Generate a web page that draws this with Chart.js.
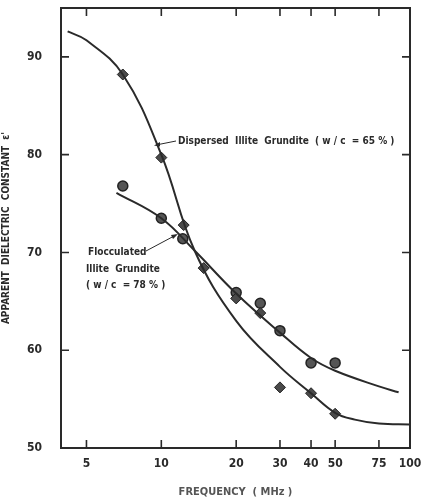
<!DOCTYPE html>
<html>
<head>
<meta charset="utf-8">
<script src="https://cdn.jsdelivr.net/npm/chart.js@4/dist/chart.umd.min.js"></script>
<style>
  html, body { margin: 0; padding: 0; background: #fff; }
  #wrap { width: 423px; height: 499px; }
</style>
</head>
<body>
<div id="wrap"><canvas id="c"></canvas></div>
<script>
const freqTicks = [5, 10, 20, 30, 40, 50, 75, 100];
const dielTicks = [50, 60, 70, 80, 90];

// measured points
const dispFreq = [7, 10, 12.3, 14.8, 20, 25, 30, 40, 50];
const dispVals = [88.2, 79.7, 72.8, 68.4, 65.3, 63.8, 56.2, 55.6, 53.5];
const flocFreq = [7, 10, 12.2, 20, 25, 30, 40, 50];
const flocVals = [76.8, 73.5, 71.4, 65.9, 64.8, 62.0, 58.7, 58.7];

// fitted curves
const dispCurveFreq = [4.2, 5, 7, 10, 13.6, 20, 30, 40, 50, 60, 75, 100];
const dispCurveVals = [92.6, 91.7, 88.2, 80.0, 70.2, 63.0, 58.3, 55.6, 53.6, 52.9, 52.5, 52.4];
const flocCurveFreq = [6.6, 10, 13.6, 20, 30, 40, 50, 75, 90];
const flocCurveVals = [76.1, 73.5, 70.2, 65.8, 61.8, 59.2, 57.9, 56.3, 55.7];

const toXY = (xs, ys) => xs.map((x, i) => ({ x, y: ys[i] }));

const FONT = "'DejaVu Sans Condensed', 'Liberation Sans Narrow', sans-serif";
const INK = '#2a2a2a';

const frameAndNotes = {
  id: 'frameAndNotes',
  afterDraw(chart) {
    const { ctx, chartArea: a, scales: { x, y } } = chart;
    ctx.save();
    ctx.strokeStyle = INK;
    ctx.lineWidth = 2;
    ctx.strokeRect(a.left, a.top, a.right - a.left, a.bottom - a.top);
    // inward ticks on all four sides
    ctx.lineWidth = 1.6;
    for (const t of freqTicks) {
      const px = x.getPixelForValue(t);
      ctx.beginPath();
      ctx.moveTo(px, a.bottom); ctx.lineTo(px, a.bottom - 8);
      ctx.moveTo(px, a.top); ctx.lineTo(px, a.top + 8);
      ctx.stroke();
    }
    for (const t of dielTicks) {
      const py = y.getPixelForValue(t);
      ctx.beginPath();
      ctx.moveTo(a.left, py); ctx.lineTo(a.left + 8, py);
      ctx.moveTo(a.right, py); ctx.lineTo(a.right - 8, py);
      ctx.stroke();
    }
    // annotations
    ctx.fillStyle = INK;
    ctx.font = 'bold 10px ' + FONT;
    ctx.textBaseline = 'middle';
    ctx.textAlign = 'left';
    ctx.fillText('Dispersed  Illite  Grundite  ( w / c  = 65 % )', 178, 141);
    ctx.fillText('Flocculated', 88, 252);
    ctx.fillText('Illite  Grundite', 86, 269);
    ctx.fillText('( w / c  = 78 % )', 86, 285);
    ctx.lineWidth = 1;
    ctx.beginPath();
    ctx.moveTo(176, 141); ctx.lineTo(156, 145);
    ctx.moveTo(146, 251); ctx.lineTo(176, 235);
    ctx.stroke();
    ctx.beginPath();
    ctx.moveTo(154, 145.5); ctx.lineTo(160, 142); ctx.lineTo(160, 146.5); ctx.closePath();
    ctx.moveTo(178, 234); ctx.lineTo(171, 235); ctx.lineTo(173, 239); ctx.closePath();
    ctx.fill();
    ctx.restore();
  }
};

new Chart(document.getElementById('c'), {
  type: 'scatter',
  data: {
    datasets: [
      {
        label: 'Dispersed fit',
        type: 'line',
        data: toXY(dispCurveFreq, dispCurveVals),
        borderColor: INK,
        borderWidth: 2,
        pointRadius: 0,
        tension: 0.4,
        fill: false
      },
      {
        label: 'Flocculated fit',
        type: 'line',
        data: toXY(flocCurveFreq, flocCurveVals),
        borderColor: INK,
        borderWidth: 2,
        pointRadius: 0,
        tension: 0.4,
        fill: false
      },
      {
        label: 'Dispersed',
        data: toXY(dispFreq, dispVals),
        pointStyle: 'rectRot',
        pointRadius: 5.5,
        backgroundColor: '#4a4a4a',
        borderColor: '#222',
        borderWidth: 1
      },
      {
        label: 'Flocculated',
        data: toXY(flocFreq, flocVals),
        pointStyle: 'circle',
        pointRadius: 5,
        backgroundColor: '#555',
        borderColor: '#222',
        borderWidth: 1.5
      }
    ]
  },
  options: {
    responsive: true,
    maintainAspectRatio: false,
    animation: false,
    layout: { padding: { top: 8, right: 13, left: 0, bottom: 0 } },
    plugins: { legend: { display: false }, tooltip: { enabled: false } },
    scales: {
      x: {
        type: 'logarithmic',
        min: 3.95,
        max: 100,
        afterBuildTicks: (s) => { s.ticks = freqTicks.map(v => ({ value: v })); },
        afterFit: (s) => { s.height = 51; s.paddingLeft = 0; s.paddingRight = 0; },
        border: { display: false },
        grid: { display: false, drawTicks: false },
        ticks: {
          color: INK,
          font: { family: FONT, size: 12, weight: 'bold' },
          padding: 9,
          maxRotation: 0,
          autoSkip: false,
          callback: (v) => String(v)
        },
        title: {
          display: true,
          text: 'FREQUENCY  ( MHz )',
          color: '#555',
          font: { family: FONT, size: 11, weight: 'bold' },
          padding: { top: 7, bottom: 0 }
        }
      },
      y: {
        min: 50,
        max: 95,
        afterBuildTicks: (s) => { s.ticks = dielTicks.map(v => ({ value: v })); },
        afterFit: (s) => { s.width = 61; s.paddingTop = 0; s.paddingBottom = 0; },
        border: { display: false },
        grid: { display: false, drawTicks: false },
        ticks: {
          color: INK,
          font: { family: FONT, size: 12, weight: 'bold' },
          padding: 19,
          callback: (v) => String(v)
        },
        title: {
          display: true,
          text: "APPARENT  DIELECTRIC  CONSTANT  \u03b5'",
          color: INK,
          font: { family: FONT, size: 10, weight: 'bold' },
          padding: { top: 0, bottom: 0 }
        }
      }
    }
  },
  plugins: [frameAndNotes]
});
</script>
</body>
</html>
